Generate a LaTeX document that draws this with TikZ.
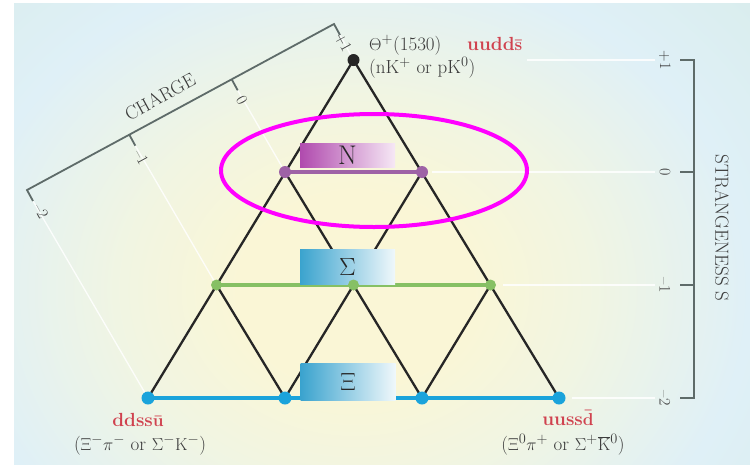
\documentclass[tikz,border=0pt]{standalone}
\usetikzlibrary{shapes.geometric}
\definecolor{bgteal}{HTML}{D4EAE3}
\definecolor{bgblue}{HTML}{DFF0F7}
\definecolor{bgyel}{HTML}{FAF6D6}
\definecolor{bgmid}{HTML}{F1F5E2}
\definecolor{axisgray}{HTML}{5E6B69}
\definecolor{labelgray}{HTML}{3C3C3C}
\definecolor{quarkred}{HTML}{D0424F}
\definecolor{npurple}{HTML}{9E62A6}
\definecolor{sgreen}{HTML}{86C064}
\definecolor{xblue}{HTML}{1AA3DB}
\definecolor{nboxdark}{HTML}{B04AAE}
\definecolor{nboxlight}{HTML}{F6E8F5}
\definecolor{bboxdark}{HTML}{3AA3CE}
\definecolor{bboxlight}{HTML}{F0F8FB}
\definecolor{ringmag}{HTML}{FF00FF}
\pgfdeclareradialshading{bgshade}{\pgfpoint{0bp}{0bp}}{color(0bp)=(bgyel); color(5bp)=(bgyel); color(10bp)=(bgmid); color(17bp)=(bgblue); color(29bp)=(bgteal); color(50bp)=(bgteal)}
\begin{document}
\begin{tikzpicture}[x=1pt,y=-1pt,
  edge/.style={draw=black!85, line width=2.3pt},
  faint/.style={draw=white, line width=1.3pt, opacity=0.85},
  axisline/.style={draw=axisgray, line width=1.8pt},
  dot/.style={circle, inner sep=0pt, minimum size=12pt},
  lbl/.style={text=labelgray, font=\fontsize{19}{22}\selectfont},
  quark/.style={text=quarkred, font=\fontsize{19}{22}\selectfont\bfseries},
  multbox/.style={inner sep=0pt, minimum width=95pt, text=black!85, font=\fontsize{27}{29}\selectfont},
  ticklbl/.style={text=labelgray, font=\fontsize{16}{18}\selectfont},
  axtitle/.style={text=labelgray, font=\fontsize{19}{22}\selectfont},
]
\useasboundingbox (0,0) rectangle (750,464);
\fill[white] (0,0) rectangle (750,464);
\begin{scope}
\clip (14,3) rectangle (750,464);
\fill[bgteal] (14,3) rectangle (750,464);
\shade[shading=bgshade] (-225,-195) rectangle (935,775);
\end{scope}

% lattice points
\coordinate (A) at (353.5,60);
\coordinate (N1) at (285,172);
\coordinate (N2) at (422,172);
\coordinate (S1) at (216.5,285);
\coordinate (S2) at (353.5,285);
\coordinate (S3) at (490.5,285);
\coordinate (X1) at (148,398);
\coordinate (X2) at (285,398);
\coordinate (X3) at (422,398);
\coordinate (X4) at (559,398);

% strangeness axis
\coordinate (sA1) at (694,60);
\coordinate (sA0) at (694,172);
\coordinate (sAm1) at (694,285);
\coordinate (sAm2) at (694,398);
\coordinate (sT1) at (680,60);
\coordinate (sT0) at (680,172);
\coordinate (sTm1) at (680,285);
\coordinate (sTm2) at (680,398);
\coordinate (hB1) at (527,60);
\coordinate (hB0) at (432,172);
\coordinate (hBm1) at (503,285);
\coordinate (hBm2) at (572,398);
\coordinate (hE1) at (655,60);
\coordinate (hE0) at (655,172);
\coordinate (hEm1) at (655,285);
\coordinate (hEm2) at (655,398);

% charge axis
\coordinate (cm2) at (27,190);
\coordinate (cm1) at (129.3,134.7);
\coordinate (c0) at (231.7,79.3);
\coordinate (cp1) at (334,24);
\coordinate (cm2t) at (33,201);
\coordinate (cm1t) at (135.3,145.7);
\coordinate (c0t) at (237.7,90.3);
\coordinate (cp1t) at (340,35);

% faint guide lines
\draw[faint] (hB1) -- (hE1);
\draw[faint] (hB0) -- (hE0);
\draw[faint] (hBm1) -- (hEm1);
\draw[faint] (hBm2) -- (hEm2);
\draw[faint] (cm2t) -- (X1);
\draw[faint] (cm1t) -- (S1);
\draw[faint] (c0t) -- (N1);
\draw[faint] (cp1t) -- (A);

% axes
\draw[axisline] (sT1) -- (sA1) -- (sAm2) -- (sTm2);
\draw[axisline] (sT0) -- (sA0);
\draw[axisline] (sTm1) -- (sAm1);
\draw[axisline] (cm2t) -- (cm2) -- (cp1) -- (cp1t);
\draw[axisline] (cm1) -- (cm1t);
\draw[axisline] (c0) -- (c0t);

\node[ticklbl, rotate=-90] (sl1) at (665,60) {+1};
\node[ticklbl, rotate=-90] (sl0) at (665,172) {0};
\node[ticklbl, rotate=-90] (slm1) at (665,285) {\textendash1};
\node[ticklbl, rotate=-90] (slm2) at (665,398) {\textendash2};
\node[axtitle, rotate=-90] (stitle) at (722,228) {STRANGENESS S};

\node[ticklbl, rotate=-61.4] (clm2) at (41,211) {\textendash2};
\node[ticklbl, rotate=-61.4] (clm1) at (141,157) {\textendash1};
\node[ticklbl, rotate=-61.4] (cl0) at (242,100) {0};
\node[ticklbl, rotate=-61.4] (clp1) at (343,42) {+1};
\node[axtitle, rotate=28.6] (ctitle) at (160,97) {CHARGE};

% lattice lines
\draw[edge] (A) -- (X1);
\draw[edge] (A) -- (X4);
\draw[edge] (N2) -- (X2);
\draw[edge] (S3) -- (X3);
\draw[edge] (N1) -- (X3);
\draw[edge] (S1) -- (X2);
\draw[draw=npurple, line width=3.6pt] (N1) -- (N2);
\draw[draw=sgreen, line width=3.4pt] (S1) -- (S3);
\draw[draw=xblue, line width=3.8pt] (X1) -- (X4);

% multiplet boxes
\node[multbox, minimum height=24pt, shade, left color=nboxdark, right color=nboxlight] (Nbox) at (347.5,155.5) {N};
\node[multbox, minimum height=35pt, shade, left color=bboxdark, right color=bboxlight] (Sbox) at (347.5,266.5) {$\Sigma$};
\node[multbox, minimum height=37pt, shade, left color=bboxdark, right color=bboxlight] (Xbox) at (348,381.5) {$\Xi$};

% dots
\node[dot, fill=black!85] (dA) at (A) {};
\node[dot, fill=npurple] (dN1) at (N1) {};
\node[dot, fill=npurple] (dN2) at (N2) {};
\node[dot, fill=sgreen, minimum size=11pt] (dS1) at (S1) {};
\node[dot, fill=sgreen, minimum size=11pt] (dS2) at (S2) {};
\node[dot, fill=sgreen, minimum size=11pt] (dS3) at (S3) {};
\node[dot, fill=xblue, minimum size=13pt] (dX1) at (X1) {};
\node[dot, fill=xblue, minimum size=13pt] (dX2) at (X2) {};
\node[dot, fill=xblue, minimum size=13pt] (dX3) at (X3) {};
\node[dot, fill=xblue, minimum size=13pt] (dX4) at (X4) {};

% particle labels
\node[lbl, anchor=base west, inner sep=0pt] (theta) at (369,50) {$\Theta^+$(1530)};
\node[quark, anchor=base west, inner sep=0pt] (qtop) at (467,50) {uudd$\mathbf{\bar{s}}$};
\node[lbl, anchor=base west, inner sep=0pt] (thdec) at (369,73) {(nK$^+$ or pK$^0$)};
\node[quark, anchor=base, inner sep=0pt] (qleft) at (138,426) {ddss$\mathbf{\bar{u}}$};
\node[lbl, anchor=base, inner sep=0pt] (dleft) at (140,450) {($\Xi^-\pi^-$ or $\Sigma^-\mathrm{K}^-$)};
\node[quark, anchor=base, inner sep=0pt] (qright) at (568,425) {uuss$\mathbf{\bar{d}}$};
\node[lbl, anchor=base, inner sep=0pt] (dright) at (563,450) {($\Xi^0\pi^+$ or $\Sigma^+\overline{\mathrm{K}}{}^0$)};

% highlight ring
\node[draw=ringmag, line width=4pt, ellipse, minimum width=306pt, minimum height=113pt, inner sep=0pt] (ring) at (374,170.5) {};
\end{tikzpicture}
\end{document}
